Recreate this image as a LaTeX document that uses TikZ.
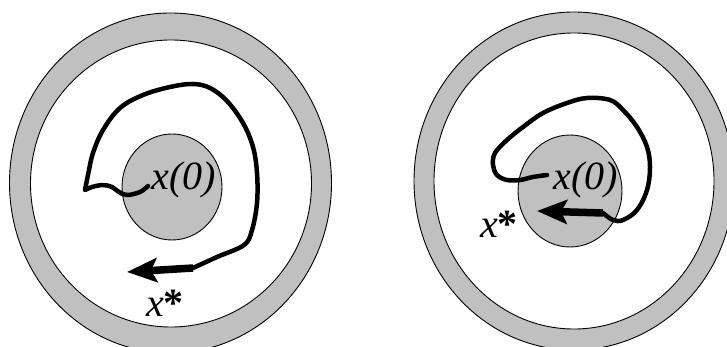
\documentclass[tikz,border=0pt]{standalone}
\usepackage{fontspec}
\setmainfont{Liberation Serif}
\newfontfamily\labelfont{Liberation Serif}
\usetikzlibrary{arrows.meta}
\definecolor{ringgrey}{HTML}{C0C0C0}

\begin{document}
\begin{tikzpicture}[x=1pt, y=-1pt,
    ring/.style={draw=black, line width=0.9pt},
    trajectory/.style={draw=black, line width=4.5pt, line join=round, line cap=round},
    headarrow/.style={draw=black, line width=7.5pt, -{Stealth[length=30pt, width=24pt, inset=6pt]}},
    lbl/.style={inner sep=0pt, font=\labelfont\fontsize{40}{44}\selectfont\itshape}]
  \useasboundingbox (0,0) rectangle (727,347);
  \clip (0,0) rectangle (727,347);
  % left picture
  \filldraw[ring, fill=ringgrey] (170.5,183) ellipse [x radius=161pt, y radius=170pt];
  \filldraw[ring, fill=white] (171,183.5) ellipse [x radius=140.5pt, y radius=143.5pt];
  \filldraw[ring, fill=ringgrey] (172,187) ellipse [x radius=50pt, y radius=53pt];
  \coordinate (startL) at (148,186);
  \coordinate (cuspL) at (85,190);
  \coordinate (turnL) at (193,268);
  \coordinate (tipL) at (127,272);
  \draw[trajectory] plot[smooth, tension=0.6] coordinates {(startL) (140,192) (127,195) (119,192)
      (112,187) (103,185) (92,187) (cuspL)}
    -- plot[smooth, tension=0.6] coordinates {(cuspL) (88,175) (93,153) (103,130) (120,108)
      (143,95) (170,87) (193,84) (210,88) (227,101) (243,123) (253,147) (257,173) (257,203)
      (252,230) (244,245) (217,257) (turnL)};
  \draw[headarrow] (turnL) -- (tipL);
  \node[lbl] (initL) at (184,180) {x(0)};
  \node[lbl] (goalL) at (165,303) {x\textup{\bfseries *}};
  % right picture
  \filldraw[ring, fill=ringgrey] (574,181) ellipse [x radius=160pt, y radius=169pt];
  \filldraw[ring, fill=white] (574,181) ellipse [x radius=140pt, y radius=148pt];
  \filldraw[ring, fill=ringgrey] (570,191) ellipse [x radius=52pt, y radius=56pt];
  \coordinate (startR) at (547,175);
  \coordinate (turnR) at (603,213);
  \coordinate (tipR) at (537,211);
  \draw[trajectory] plot[smooth, tension=0.6] coordinates {(startR) (533,177) (520,180) (507,180)
      (497,175) (493,165) (495,153) (507,140) (523,127) (543,113) (567,103) (587,98) (610,100)
      (623,110) (637,127) (647,147) (650,167) (647,190) (637,210) (623,220) (613,220) (turnR)};
  \draw[headarrow] (turnR) -- (tipR);
  \node[lbl] (initR) at (586,180) {x(0)};
  \node[lbl] (goalR) at (499,224) {x\textup{\bfseries *}};
\end{tikzpicture}
\end{document}
